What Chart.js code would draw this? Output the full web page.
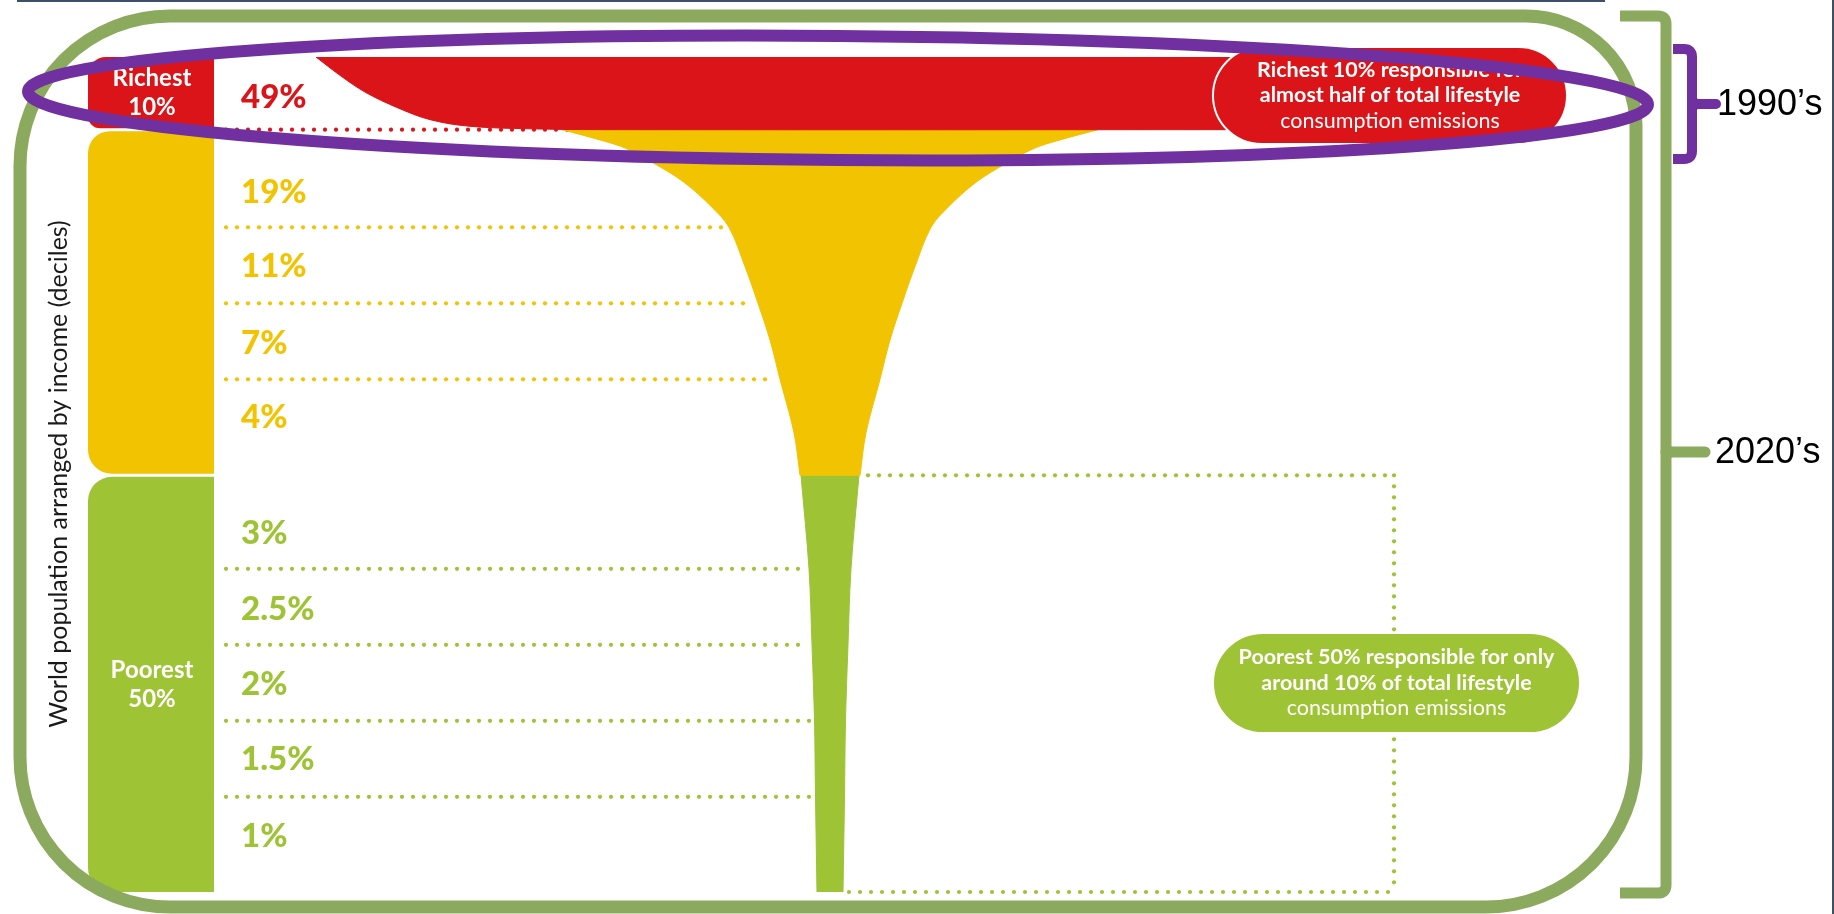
<!DOCTYPE html>
<html>
<head>
<meta charset="utf-8">
<title>Lifestyle consumption emissions by income decile</title>
<script src="https://cdn.jsdelivr.net/npm/chart.js@4.4.1/dist/chart.umd.min.js"></script>
<style>
  html, body { margin: 0; padding: 0; background: #fff; }
  canvas { display: block; }
</style>
</head>
<body>
<canvas id="chart" width="1834" height="914"></canvas>
<script>
// income deciles, richest first
const deciles = ['Top 10%', 'Decile 9', 'Decile 8', 'Decile 7', 'Decile 6',
                 'Decile 5', 'Decile 4', 'Decile 3', 'Decile 2', 'Bottom 10%'];
// share of total lifestyle consumption emissions (%)
const shares = [49, 19, 11, 7, 4, 3, 2.5, 2, 1.5, 1];
const shareLabels = ['49%', '19%', '11%', '7%', '4%', '3%', '2.5%', '2%', '1.5%', '1%'];

// row boundaries on the population axis (100 = richest, 0 = poorest), as drawn
const rowEdges = [100, 91.3, 79.6, 70.5, 61.4, 49.9, 38.7, 29.6, 20.5, 11.4, 0];
// where each percentage label sits on that axis
const labelPos = [95.2, 83.8, 74.9, 65.7, 56.8, 43.0, 33.9, 24.9, 15.9, 6.7];

// funnel profile: population position vs half width (width units)
const bowlY  = [91.3, 90.0, 89.1, 87.4, 85.0, 82.0, 79.6, 74.9, 70.5, 66.1, 61.4, 55.0, 49.9];
const bowlHW = [26.8, 22.8, 20.5, 17.8, 14.6, 11.8, 10.1, 8.5, 7.2, 6.0, 5.0, 3.6, 3.0];
const stemY  = [49.9, 38.7, 29.6, 20.5, 11.4, 0];
const stemHW = [2.9, 2.1, 1.8, 1.55, 1.45, 1.3];

// top decile ribbon: curved tail on the left, runs under the callout on the right
const tailX = [-51.4, -49.0, -46.5, -43.2, -40.0, -36.0, -30.0, -23.0];
const tailY = [100, 97.8, 95.8, 93.9, 92.5, 91.7, 91.4, 91.3];
const ribbonEnd = 57;

const RED = '#DA1418', YELLOW = '#F1C300', GREEN = '#9EC334';
const FRAME = '#8BAA5E', PURPLE = '#7030A0';
const groupColor = i => i === 0 ? RED : (i < 5 ? YELLOW : GREEN);

// closed outlines (corner points doubled to keep them sharp)
function pt(x, y) { return {x: x, y: y}; }
const ribbonPts = [pt(tailX[0], tailY[0]), pt(tailX[0], tailY[0]),
  pt(ribbonEnd, rowEdges[0]), pt(ribbonEnd, rowEdges[0]),
  pt(ribbonEnd, rowEdges[1]), pt(ribbonEnd, rowEdges[1])];
for (let i = tailX.length - 1; i >= 0; i--) ribbonPts.push(pt(tailX[i], tailY[i]));
ribbonPts.push(pt(tailX[0], tailY[0]));

function profilePts(ys, hws) {
  const pts = [pt(-hws[0], ys[0])];
  for (let i = 0; i < ys.length; i++) pts.push(pt(-hws[i], ys[i]));
  pts.push(pt(-hws[ys.length - 1], ys[ys.length - 1]));
  pts.push(pt(hws[ys.length - 1], ys[ys.length - 1]));
  for (let i = ys.length - 1; i >= 0; i--) pts.push(pt(hws[i], ys[i]));
  pts.push(pt(hws[0], ys[0]));
  pts.push(pt(-hws[0], ys[0]));
  pts.push(pt(-hws[0], ys[0]));
  return pts;
}
const bowlPts = profilePts(bowlY, bowlHW);
const stemPts = profilePts(stemY, stemHW);

function interp(ys, vs, y) {
  for (let i = 0; i < ys.length - 1; i++) {
    if (y <= ys[i] && y >= ys[i + 1]) {
      const t = (ys[i] - y) / (ys[i] - ys[i + 1]);
      return vs[i] + t * (vs[i + 1] - vs[i]);
    }
  }
  return vs[vs.length - 1];
}
function halfWidthAt(y) {
  return y >= bowlY[bowlY.length - 1] ? interp(bowlY, bowlHW, y) : interp(stemY, stemHW, y);
}

function dotsH(ctx, x0, x1, y, color) {
  ctx.fillStyle = color;
  for (let x = x0; x <= x1; x += 11) {
    ctx.beginPath(); ctx.arc(x, y, 2.1, 0, Math.PI * 2); ctx.fill();
  }
}
function dotsV(ctx, x, y0, y1, color) {
  ctx.fillStyle = color;
  for (let y = y0; y <= y1; y += 11) {
    ctx.beginPath(); ctx.arc(x, y, 2.1, 0, Math.PI * 2); ctx.fill();
  }
}

function pill(ctx, x0, y0, x1, y1, fill, lines) {
  const r = (y1 - y0) / 2;
  ctx.beginPath();
  ctx.roundRect(x0, y0, x1 - x0, y1 - y0, r);
  ctx.fillStyle = fill; ctx.fill();
  ctx.lineWidth = 2; ctx.strokeStyle = '#fff'; ctx.stroke();
  ctx.fillStyle = '#fff';
  ctx.textAlign = 'center'; ctx.textBaseline = 'middle';
  const cx = (x0 + x1) / 2, cy = (y0 + y1) / 2;
  lines.forEach((ln, i) => {
    ctx.font = ln[1] + ' 21.5px Lato';
    ctx.fillText(ln[0], cx, cy + (i - 1) * 25.5);
  });
}

function brace(ctx, xv, top, bot, hookL, tipY, tipR, color, lw) {
  ctx.strokeStyle = color; ctx.lineWidth = lw; ctx.lineJoin = 'round'; ctx.lineCap = 'butt';
  ctx.beginPath();
  ctx.moveTo(hookL, top); ctx.lineTo(xv - 8, top);
  ctx.quadraticCurveTo(xv, top, xv, top + 8);
  ctx.lineTo(xv, bot - 8);
  ctx.quadraticCurveTo(xv, bot, xv - 8, bot);
  ctx.lineTo(hookL, bot);
  ctx.stroke();
  ctx.lineCap = 'round';
  ctx.beginPath(); ctx.moveTo(xv, tipY); ctx.lineTo(tipR, tipY); ctx.stroke();
  ctx.fillStyle = color;
  ctx.beginPath();
  ctx.moveTo(xv, tipY - 12); ctx.quadraticCurveTo(xv + 2, tipY - 4, xv + 12, tipY - 4);
  ctx.lineTo(xv + 12, tipY + 4); ctx.quadraticCurveTo(xv + 2, tipY + 4, xv, tipY + 12);
  ctx.closePath(); ctx.fill();
}

const decor = {
  id: 'decor',
  beforeDraw(chart) {
    const {ctx} = chart;
    const y = chart.scales.y;
    ctx.save();
    ctx.fillStyle = '#fff';
    ctx.fillRect(0, 0, chart.width, chart.height);

    // group bars on the left
    const groups = [
      {from: 0, to: 1, color: RED, text: ['Richest', '10%'], r: [18, 0, 0, 12]},
      {from: 1, to: 5, color: YELLOW, text: null, r: [22, 0, 0, 24]},
      {from: 5, to: 10, color: GREEN, text: ['Poorest', '50%'], r: [24, 0, 0, 24]}
    ];
    groups.forEach(g => {
      const top = y.getPixelForValue(rowEdges[g.from]) + (g.from ? 1.5 : 0);
      const bot = y.getPixelForValue(rowEdges[g.to]) - (g.to < 10 ? 1.5 : 0);
      ctx.beginPath();
      ctx.roundRect(88, top, 126, bot - top, g.r);
      ctx.fillStyle = g.color; ctx.fill();
      if (g.text) {
        const cy = (top + bot) / 2;
        ctx.fillStyle = '#fff'; ctx.textAlign = 'center'; ctx.textBaseline = 'middle';
        ctx.font = 'bold 24px Lato';
        ctx.fillText(g.text[0], 152, cy - 14);
        ctx.fillText(g.text[1], 152, cy + 15);
      }
    });

    // percentage labels
    ctx.textAlign = 'left'; ctx.textBaseline = 'middle';
    ctx.font = '900 33px Lato';
    shareLabels.forEach((s, i) => {
      ctx.fillStyle = groupColor(i);
      ctx.fillText(s, 241, y.getPixelForValue(labelPos[i]));
    });

    // axis title
    ctx.save();
    ctx.translate(59, 474);
    ctx.rotate(-Math.PI / 2);
    ctx.fillStyle = '#1a1a1a'; ctx.font = '25px Lato';
    ctx.textAlign = 'center'; ctx.textBaseline = 'middle';
    ctx.fillText('World population arranged by income (deciles)', 0, 0);
    ctx.restore();
    ctx.restore();
  },
  beforeDatasetsDraw(chart) {
    const {ctx} = chart;
    const x = chart.scales.x, y = chart.scales.y;
    ctx.save();
    // dotted row dividers, left of the funnel
    for (let k = 1; k < rowEdges.length - 1; k++) {
      if (k === 5) continue;
      const v = rowEdges[k];
      const py = y.getPixelForValue(v);
      const end = k === 1 ? x.getPixelForValue(0) : x.getPixelForValue(-halfWidthAt(v)) - 5;
      dotsH(ctx, 226, end, py, groupColor(k - 1));
    }
    // bracket of the poorest half, right of the stem
    const calloutX = 1394;
    const yTop = y.getPixelForValue(rowEdges[5]);
    const yBot = y.getPixelForValue(rowEdges[10]);
    dotsH(ctx, x.getPixelForValue(halfWidthAt(rowEdges[5])) + 8, calloutX, yTop, GREEN);
    dotsH(ctx, x.getPixelForValue(halfWidthAt(0)) + 6, calloutX, yBot, GREEN);
    dotsV(ctx, calloutX, yTop, yBot, GREEN);
    ctx.restore();
  },
  afterDraw(chart) {
    const {ctx} = chart;
    ctx.save();
    // callouts
    pill(ctx, 1213, 47, 1567, 144, RED, [
      ['Richest 10% responsible for', 'bold'],
      ['almost half of total lifestyle', 'bold'],
      ['consumption emissions', 'normal']]);
    pill(ctx, 1213, 633, 1580, 733, GREEN, [
      ['Poorest 50% responsible for only', 'bold'],
      ['around 10% of total lifestyle', 'bold'],
      ['consumption emissions', 'normal']]);

    // slide border remnants
    ctx.fillStyle = '#3E4F6C';
    ctx.fillRect(17, 0, 1588, 2);
    ctx.fillRect(1832, 0, 2, 914);

    // green frame (2020's)
    ctx.beginPath();
    ctx.roundRect(20, 16, 1616, 891, [150, 110, 150, 150]);
    ctx.lineWidth = 13; ctx.strokeStyle = FRAME; ctx.stroke();

    // purple ellipse (1990's), tipped slightly down to the right
    ctx.beginPath();
    ctx.ellipse(838, 98, 810, 62, 0.008, 0, Math.PI * 2);
    ctx.lineWidth = 12; ctx.strokeStyle = PURPLE; ctx.stroke();

    // braces and their labels
    brace(ctx, 1666, 16, 893, 1620, 452, 1705, FRAME, 11);
    brace(ctx, 1692, 49, 159, 1673, 104, 1716, PURPLE, 10);
    ctx.fillStyle = '#000'; ctx.font = '36px "Liberation Sans", Arial, sans-serif';
    ctx.textAlign = 'left'; ctx.textBaseline = 'middle';
    ctx.fillText('1990\u2019s', 1717, 105);
    ctx.fillText('2020\u2019s', 1715, 453);
    ctx.restore();
  }
};

const common = {showLine: true, fill: 'shape', pointRadius: 0, borderWidth: 1, tension: 0.35};

new Chart(document.getElementById('chart').getContext('2d'), {
  type: 'scatter',
  data: {
    datasets: [
      Object.assign({label: deciles[0], data: ribbonPts, backgroundColor: RED, borderColor: RED}, common),
      Object.assign({label: 'Middle 40%', data: bowlPts, backgroundColor: YELLOW, borderColor: YELLOW}, common),
      Object.assign({label: 'Bottom 50%', data: stemPts, backgroundColor: GREEN, borderColor: GREEN}, common)
    ]
  },
  options: {
    responsive: false,
    animation: false,
    events: [],
    layout: {padding: {left: 0, right: 0, top: 57, bottom: 22}},
    scales: {
      x: {type: 'linear', min: -83, max: 100.4, display: false},
      y: {type: 'linear', min: 0, max: 100, display: false}
    },
    plugins: {legend: {display: false}, tooltip: {enabled: false}}
  },
  plugins: [decor]
});
</script>
</body>
</html>
